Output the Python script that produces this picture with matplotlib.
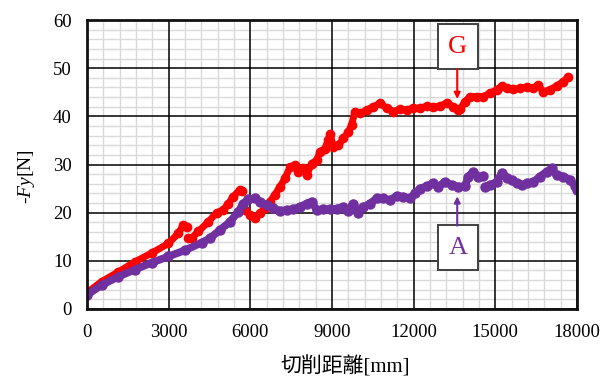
import numpy as np
import matplotlib
matplotlib.use("Agg")
import matplotlib.pyplot as plt
from matplotlib.patches import Rectangle
from matplotlib.ticker import MultipleLocator

plt.rcParams['font.family'] = ['Liberation Serif', 'Noto Sans CJK JP']
plt.rcParams['mathtext.fontset'] = 'custom'
plt.rcParams['mathtext.rm'] = 'Liberation Serif'
plt.rcParams['mathtext.it'] = 'Liberation Serif:italic'

nan = np.nan

# series G (red)
g_dist = [0, 540, 1150, 1760, 2370, 2990, 3350, 3540, 3660, nan,
          3720, 3845, 4090, 4460, 4760, 5000, 5190, 5370, 5620, 5680, nan,
          5800, 6000, 6170, 6350, 6540, 6720, 6900, 7090, 7270, 7460, 7640,
          7760, 7950, 8070, 8250, 8440, 8560, 8740, 8850, 8930, 9050, 9230,
          9420, 9600, 9720, 9840, 10030, 10270, 10520, 10760, 11010, 11250,
          11500, 11740, 11990, 12230, 12480, 12720, 12970, 13210, 13460,
          13640, 13700, 13880, 14070, 14310, 14560, 14800, 15050, 15230,
          15420, 15660, 15900, 16150, 16390, 16580, 16760, 17000, 17250,
          17490, 17680]
g_force = [3.4, 5.7, 7.7, 9.8, 11.6, 13.6, 15.7, 17.4, 17.0, nan,
           14.7, 14.7, 16.1, 18.1, 20.0, 20.5, 21.9, 23.3, 24.8, 24.5, nan,
           20.5, 19.5, 18.8, 19.9, 20.9, 22.3, 23.7, 25.4, 27.1, 29.5, 29.9,
           28.5, 29.2, 27.8, 30.2, 30.9, 32.7, 33.3, 35.0, 36.3, 33.7, 34.0,
           35.4, 36.8, 38.2, 41.0, 40.6, 41.3, 42.0, 42.7, 41.7, 41.0,
           41.5, 41.3, 41.7, 41.7, 42.1, 42.0, 42.1, 42.8, 42.0,
           41.3, 41.5, 43.0, 44.1, 44.1, 44.1, 44.8, 45.5, 46.3,
           45.8, 45.6, 45.8, 46.1, 45.8, 46.5, 45.1, 45.5, 46.3,
           47.2, 48.2]

# series A (purple)
a_dist = [0, 540, 1150, 1760, 2370, 2990, 3600, 4220, 4520, 4880, 5250,
          5560, 5740, 5920, 6170, 6350, 6600, 6840, 7090, 7330, 7580, 7820,
          8070, 8250, 8440, 8680, 8930, 9170, 9420, 9600, 9780, 9970, 10150,
          10400, 10640, 10880, 11130, 11380, 11620, 11860, 12050, 12230,
          12480, 12720, 12900, 13150, 13400, 13640, 13880, 14010, 14190,
          14370, 14560, nan, 14620, 14800, 15050, 15230, 15420, 15600, 15790,
          15970, 16150, 16400, 16640, 16880, 17070, 17250, 17500, 17740,
          17920, 17990]
a_force = [2.9, 5.0, 6.7, 8.2, 9.6, 10.9, 12.2, 13.8, 14.7, 16.4, 18.1,
           20.2, 21.9, 22.8, 23.0, 22.3, 21.6, 20.9, 20.4, 20.5, 20.7, 21.2,
           21.9, 22.3, 20.5, 20.7, 20.7, 20.8, 21.2, 20.4, 21.9, 19.9, 21.2,
           21.9, 23.0, 23.0, 22.6, 23.5, 23.3, 23.0, 24.0, 25.0,
           25.5, 26.1, 25.4, 26.4, 25.7, 25.4, 25.5, 27.5, 28.5,
           27.5, 27.6, nan, 25.4, 25.7, 26.4, 28.2, 27.1, 26.8, 26.1,
           25.7, 26.1, 26.4, 27.5, 28.5, 29.2, 27.8, 27.5, 26.8,
           25.6, 24.8]

RED = '#ff0000'
PURPLE = '#7030a0'

fig = plt.figure(figsize=(6.12, 3.79), dpi=100)
ax = fig.add_axes([0.1422, 0.1847, 0.8006, 0.7625])

ax.plot(g_dist, g_force, color=RED, lw=5, marker='o', ms=6,
        solid_capstyle='round', solid_joinstyle='round', zorder=4)
ax.plot(a_dist, a_force, color=PURPLE, lw=5.5, marker='o', ms=6.5,
        solid_capstyle='round', solid_joinstyle='round', zorder=4)

ax.set_xlim(0, 18000)
ax.set_ylim(0, 60)
ax.xaxis.set_major_locator(MultipleLocator(3000))
ax.xaxis.set_minor_locator(MultipleLocator(600))
ax.yaxis.set_major_locator(MultipleLocator(10))
ax.yaxis.set_minor_locator(MultipleLocator(2))

# light minor grid, black major grid on top of it
ax.grid(which='minor', color='#d9d9d9', lw=1.0)
ax.set_axisbelow(True)
for xv in ax.get_xticks():
    ax.axvline(xv, color='black', lw=1.1, zorder=1)
for yv in ax.get_yticks():
    ax.axhline(yv, color='black', lw=1.1, zorder=1)

ax.tick_params(which='both', length=0)
ax.tick_params(axis='both', labelsize=13.5, pad=11)
for s in ax.spines.values():
    s.set_linewidth(2)
    s.set_color('#111111')
    s.set_zorder(5)

ax.set_ylabel(r'-$Fy$[N]', fontsize=14)
ax.yaxis.set_label_coords(-0.102, 0.457)
ax.set_xlabel('切削距離[mm]', fontsize=15)
ax.xaxis.set_label_coords(0.527, -0.165)

# callout boxes
for label, color, box_y, tip_y, tail_y in [('G', RED, 49.8, 43.6, 49.8),
                                          ('A', PURPLE, 8.1, 23.4, 17.3)]:
    ax.add_patch(Rectangle((12880, box_y), 1490, 9.3, facecolor='white',
                           edgecolor='#404040', lw=1.4, zorder=6))
    ax.text(13625, box_y + 4.65, label, color=color, fontsize=19,
            ha='center', va='center', zorder=7)
    ax.annotate('', xy=(13600, tip_y), xytext=(13600, tail_y),
                arrowprops=dict(arrowstyle='-|>', color=color, lw=1.5,
                                mutation_scale=9, shrinkA=0, shrinkB=0),
                zorder=7)

fig.savefig('out.png', dpi=100)
